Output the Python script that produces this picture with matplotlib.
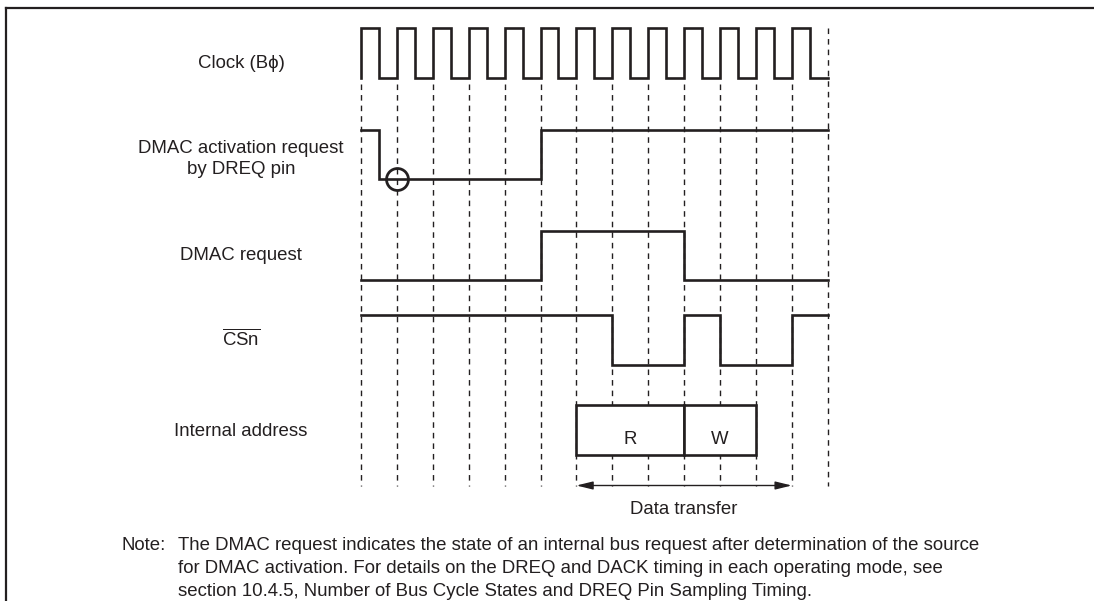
import numpy as np
import matplotlib.pyplot as plt
from matplotlib.patches import Rectangle

plt.rcParams['font.family'] = ['Liberation Sans', 'DejaVu Sans']
plt.rcParams['mathtext.fontset'] = 'custom'
plt.rcParams['mathtext.rm'] = 'Liberation Sans'

INK = '#231f20'
FS = 13.4

# signal data, times in clock cycles
n_cycles = 13
clk_times = np.arange(0, n_cycles + 0.5, 0.5)
clk_levels = [1, 0] * n_cycles

dreq_times = [0, 0.5, 5, 13]
dreq_levels = [1, 0, 1]
dreq_sample = 1

dmac_times = [0, 5, 9, 13]
dmac_levels = [0, 1, 0]

csn_times = [0, 7, 9, 10, 12, 13]
csn_levels = [1, 0, 1, 0, 1]

addr_cycles = [(6, 9, 'R'), (9, 11, 'W')]
transfer = (6, 12)

labels = ['Clock (Bϕ)', 'DMAC activation request\nby DREQ pin', 'DMAC request',
          r'$\overline{\mathrm{CSn}}$', 'Internal address']
note_lines = ['The DMAC request indicates the state of an internal bus request after determination of the source',
              'for DMAC activation. For details on the DREQ and DACK timing in each operating mode, see',
              'section 10.4.5, Number of Bus Cycle States and DREQ Pin Sampling Timing.']

# layout (pixel rows)
rows = {'clk': (28, 78), 'dreq': (130, 179), 'dmac': (231, 280), 'csn': (315, 365), 'addr': (405, 455)}
label_y = [63, 159, 255, 339, 432]
x0, step = 361, 35.9


def wave(times, levels):
    xs, ys = [times[0]], [levels[0]]
    for t, lv in zip(times[1:-1], levels[1:]):
        xs += [t, t]
        ys += [ys[-1], lv]
    xs.append(times[-1])
    ys.append(levels[-1])
    return np.array(xs), np.array(ys)


def to_y(levels, row):
    hi, lo = rows[row]
    return lo + (hi - lo) * np.asarray(levels, dtype=float)


fig = plt.figure(figsize=(10.94, 6.01), dpi=100)
ax = fig.add_axes([0, 0, 1, 1])
ax.set_xlim(-x0 / step, (1094 - x0) / step)
ax.set_ylim(601, 0)
ax.axis('off')

# frame
left = ax.get_xlim()[0] + 6 / step
ax.plot([left, ax.get_xlim()[1]], [7.5, 7.5], color=INK, lw=1.6)
ax.plot([left, left], [7.5, 601], color=INK, lw=1.6)

# dashed cycle lines
for k in range(n_cycles + 1):
    top = 28 if k == n_cycles else 84
    ax.plot([k, k], [top, 486], color=INK, lw=1.0, dashes=(4, 3.6), zorder=1)

sw = 1.9
# clock (starts with rising edge)
xs, ys = wave(list(clk_times), clk_levels)
xs = np.concatenate([[0], xs])
ys = np.concatenate([[0], ys])
ax.plot(xs, to_y(ys, 'clk'), color=INK, lw=sw, solid_joinstyle='miter', zorder=3)

for times, levels, row in [(dreq_times, dreq_levels, 'dreq'), (dmac_times, dmac_levels, 'dmac'),
                           (csn_times, csn_levels, 'csn')]:
    xs, ys = wave(times, levels)
    ax.plot(xs, to_y(ys, row), color=INK, lw=sw, solid_joinstyle='miter', zorder=3)

ax.plot([dreq_sample], [rows['dreq'][1]], marker='o', ms=15.8, mfc='none', mec=INK, mew=2.0, zorder=4)

# internal address boxes (white fill hides the dashed lines)
hi, lo = rows['addr']
for a, b, name in addr_cycles:
    ax.add_patch(Rectangle((a, hi), b - a, lo - hi, facecolor='white', edgecolor=INK,
                           lw=sw, joinstyle='miter', zorder=3))
    ax.text((a + b) / 2, 440, name, ha='center', va='center', fontsize=FS, color=INK, zorder=4)

# data transfer arrow
ax.annotate('', xy=(transfer[1], 485.5), xytext=(transfer[0], 485.5),
            arrowprops=dict(arrowstyle='<|-|>,head_length=0.9,head_width=0.22', color=INK, lw=1.0,
                            mutation_scale=11, shrinkA=0, shrinkB=0))
ax.text(sum(transfer) / 2, 510, 'Data transfer', ha='center', va='center', fontsize=FS, color=INK)

# signal labels
lx = (241 - x0) / step
for text, y in zip(labels, label_y):
    ax.text(lx, y, text, ha='center', va='center', fontsize=FS, color=INK, linespacing=1.25)

# note
ax.text((121 - x0) / step, 545, 'Note:', ha='left', va='center', fontsize=FS, color=INK)
for i, line in enumerate(note_lines):
    ax.text((178 - x0) / step, 545 + 23.5 * i, line, ha='left', va='center', fontsize=FS, color=INK)

fig.savefig('out.png', dpi=100)
